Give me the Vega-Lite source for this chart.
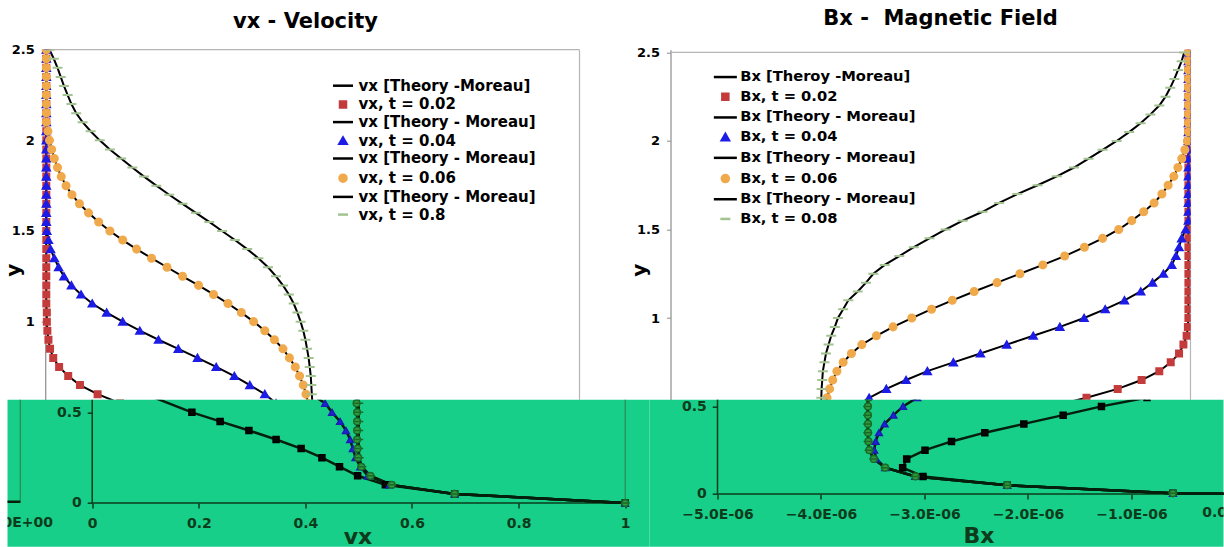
{
"$schema":"https://vega.github.io/schema/vega-lite/v6.json",
"padding":{"left":2.5,"top":7.7,"right":0,"bottom":0},
"autosize":{"type":"pad"},
"background":"#ffffff",
"columns":2,
"align":"none",
"bounds":"flush",
"spacing":0,
"resolve":{"scale":{"color":"independent","stroke":"independent","shape":"independent","size":"independent","x":"independent","y":"independent"},"legend":{"color":"independent","stroke":"independent","shape":"independent","size":"independent"}},
"config":{"view":{"stroke":null},"font":"DejaVu Sans","axis":{"grid":false}},
"datasets":{
"vtop":[
{"s":"vx, t = 0.02","y":2.5,"vx":0.002},{"s":"vx, t = 0.02","y":2.45,"vx":0.002},{"s":"vx, t = 0.02","y":2.4,"vx":0.002},{"s":"vx, t = 0.02","y":2.35,"vx":0.002},{"s":"vx, t = 0.02","y":2.3,"vx":0.002},{"s":"vx, t = 0.02","y":2.25,"vx":0.002},{"s":"vx, t = 0.02","y":2.2,"vx":0.002},{"s":"vx, t = 0.02","y":2.15,"vx":0.002},{"s":"vx, t = 0.02","y":2.1,"vx":0.002},{"s":"vx, t = 0.02","y":2.05,"vx":0.002},{"s":"vx, t = 0.02","y":2.0,"vx":0.002},{"s":"vx, t = 0.02","y":1.95,"vx":0.002},{"s":"vx, t = 0.02","y":1.9,"vx":0.002},{"s":"vx, t = 0.02","y":1.85,"vx":0.002},{"s":"vx, t = 0.02","y":1.8,"vx":0.002},{"s":"vx, t = 0.02","y":1.75,"vx":0.002},{"s":"vx, t = 0.02","y":1.7,"vx":0.002},{"s":"vx, t = 0.02","y":1.65,"vx":0.002},{"s":"vx, t = 0.02","y":1.6,"vx":0.002},{"s":"vx, t = 0.02","y":1.55,"vx":0.002},{"s":"vx, t = 0.02","y":1.5,"vx":0.002},{"s":"vx, t = 0.02","y":1.45,"vx":0.002},{"s":"vx, t = 0.02","y":1.4,"vx":0.002},{"s":"vx, t = 0.02","y":1.35,"vx":0.002},{"s":"vx, t = 0.02","y":1.3,"vx":0.002},{"s":"vx, t = 0.02","y":1.25,"vx":0.002},{"s":"vx, t = 0.02","y":1.2,"vx":0.002},{"s":"vx, t = 0.02","y":1.15,"vx":0.002},{"s":"vx, t = 0.02","y":1.1,"vx":0.002},{"s":"vx, t = 0.02","y":1.05,"vx":0.003},{"s":"vx, t = 0.02","y":1.0,"vx":0.003},{"s":"vx, t = 0.02","y":0.95,"vx":0.004},{"s":"vx, t = 0.02","y":0.9,"vx":0.006},{"s":"vx, t = 0.02","y":0.85,"vx":0.009},{"s":"vx, t = 0.02","y":0.8,"vx":0.015},{"s":"vx, t = 0.02","y":0.75,"vx":0.026},{"s":"vx, t = 0.02","y":0.7,"vx":0.043},{"s":"vx, t = 0.02","y":0.65,"vx":0.065},{"s":"vx, t = 0.02","y":0.6,"vx":0.098},{"s":"vx, t = 0.02","y":0.55,"vx":0.14},{"s":"vx, t = 0.02","y":0.5,"vx":0.185},
{"s":"vx, t = 0.04","y":2.5,"vx":0.002},{"s":"vx, t = 0.04","y":2.45,"vx":0.002},{"s":"vx, t = 0.04","y":2.4,"vx":0.002},{"s":"vx, t = 0.04","y":2.35,"vx":0.002},{"s":"vx, t = 0.04","y":2.3,"vx":0.002},{"s":"vx, t = 0.04","y":2.25,"vx":0.002},{"s":"vx, t = 0.04","y":2.2,"vx":0.002},{"s":"vx, t = 0.04","y":2.15,"vx":0.002},{"s":"vx, t = 0.04","y":2.1,"vx":0.002},{"s":"vx, t = 0.04","y":2.05,"vx":0.002},{"s":"vx, t = 0.04","y":2.0,"vx":0.002},{"s":"vx, t = 0.04","y":1.95,"vx":0.002},{"s":"vx, t = 0.04","y":1.9,"vx":0.002},{"s":"vx, t = 0.04","y":1.85,"vx":0.002},{"s":"vx, t = 0.04","y":1.8,"vx":0.002},{"s":"vx, t = 0.04","y":1.75,"vx":0.002},{"s":"vx, t = 0.04","y":1.7,"vx":0.002},{"s":"vx, t = 0.04","y":1.65,"vx":0.002},{"s":"vx, t = 0.04","y":1.6,"vx":0.002},{"s":"vx, t = 0.04","y":1.55,"vx":0.002},{"s":"vx, t = 0.04","y":1.5,"vx":0.003},{"s":"vx, t = 0.04","y":1.45,"vx":0.006},{"s":"vx, t = 0.04","y":1.4,"vx":0.01},{"s":"vx, t = 0.04","y":1.35,"vx":0.017},{"s":"vx, t = 0.04","y":1.3,"vx":0.025},{"s":"vx, t = 0.04","y":1.25,"vx":0.035},{"s":"vx, t = 0.04","y":1.2,"vx":0.049},{"s":"vx, t = 0.04","y":1.15,"vx":0.067},{"s":"vx, t = 0.04","y":1.1,"vx":0.088},{"s":"vx, t = 0.04","y":1.05,"vx":0.115},{"s":"vx, t = 0.04","y":1.0,"vx":0.145},{"s":"vx, t = 0.04","y":0.95,"vx":0.177},{"s":"vx, t = 0.04","y":0.9,"vx":0.212},{"s":"vx, t = 0.04","y":0.85,"vx":0.249},{"s":"vx, t = 0.04","y":0.8,"vx":0.285},{"s":"vx, t = 0.04","y":0.75,"vx":0.32},{"s":"vx, t = 0.04","y":0.7,"vx":0.354},{"s":"vx, t = 0.04","y":0.65,"vx":0.383},{"s":"vx, t = 0.04","y":0.6,"vx":0.411},{"s":"vx, t = 0.04","y":0.55,"vx":0.432},{"s":"vx, t = 0.04","y":0.5,"vx":0.45},
{"s":"vx, t = 0.06","y":2.5,"vx":0.002},{"s":"vx, t = 0.06","y":2.45,"vx":0.002},{"s":"vx, t = 0.06","y":2.4,"vx":0.002},{"s":"vx, t = 0.06","y":2.35,"vx":0.002},{"s":"vx, t = 0.06","y":2.3,"vx":0.002},{"s":"vx, t = 0.06","y":2.25,"vx":0.002},{"s":"vx, t = 0.06","y":2.2,"vx":0.002},{"s":"vx, t = 0.06","y":2.15,"vx":0.002},{"s":"vx, t = 0.06","y":2.1,"vx":0.002},{"s":"vx, t = 0.06","y":2.05,"vx":0.005},{"s":"vx, t = 0.06","y":2.0,"vx":0.008},{"s":"vx, t = 0.06","y":1.95,"vx":0.012},{"s":"vx, t = 0.06","y":1.9,"vx":0.017},{"s":"vx, t = 0.06","y":1.85,"vx":0.023},{"s":"vx, t = 0.06","y":1.8,"vx":0.03},{"s":"vx, t = 0.06","y":1.75,"vx":0.039},{"s":"vx, t = 0.06","y":1.7,"vx":0.05},{"s":"vx, t = 0.06","y":1.65,"vx":0.064},{"s":"vx, t = 0.06","y":1.6,"vx":0.081},{"s":"vx, t = 0.06","y":1.55,"vx":0.1},{"s":"vx, t = 0.06","y":1.5,"vx":0.121},{"s":"vx, t = 0.06","y":1.45,"vx":0.145},{"s":"vx, t = 0.06","y":1.4,"vx":0.171},{"s":"vx, t = 0.06","y":1.35,"vx":0.199},{"s":"vx, t = 0.06","y":1.3,"vx":0.228},{"s":"vx, t = 0.06","y":1.25,"vx":0.257},{"s":"vx, t = 0.06","y":1.2,"vx":0.287},{"s":"vx, t = 0.06","y":1.15,"vx":0.315},{"s":"vx, t = 0.06","y":1.1,"vx":0.342},{"s":"vx, t = 0.06","y":1.05,"vx":0.367},{"s":"vx, t = 0.06","y":1.0,"vx":0.39},{"s":"vx, t = 0.06","y":0.95,"vx":0.411},{"s":"vx, t = 0.06","y":0.9,"vx":0.429},{"s":"vx, t = 0.06","y":0.85,"vx":0.445},{"s":"vx, t = 0.06","y":0.8,"vx":0.457},{"s":"vx, t = 0.06","y":0.75,"vx":0.468},{"s":"vx, t = 0.06","y":0.7,"vx":0.476},{"s":"vx, t = 0.06","y":0.65,"vx":0.483},{"s":"vx, t = 0.06","y":0.6,"vx":0.488},{"s":"vx, t = 0.06","y":0.55,"vx":0.492},{"s":"vx, t = 0.06","y":0.5,"vx":0.495},
{"s":"vx, t = 0.8","y":2.5,"vx":0.008},{"s":"vx, t = 0.8","y":2.45,"vx":0.016},{"s":"vx, t = 0.8","y":2.4,"vx":0.023},{"s":"vx, t = 0.8","y":2.35,"vx":0.029},{"s":"vx, t = 0.8","y":2.3,"vx":0.035},{"s":"vx, t = 0.8","y":2.25,"vx":0.042},{"s":"vx, t = 0.8","y":2.2,"vx":0.049},{"s":"vx, t = 0.8","y":2.15,"vx":0.058},{"s":"vx, t = 0.8","y":2.1,"vx":0.07},{"s":"vx, t = 0.8","y":2.05,"vx":0.085},{"s":"vx, t = 0.8","y":2.0,"vx":0.102},{"s":"vx, t = 0.8","y":1.95,"vx":0.121},{"s":"vx, t = 0.8","y":1.9,"vx":0.142},{"s":"vx, t = 0.8","y":1.85,"vx":0.163},{"s":"vx, t = 0.8","y":1.8,"vx":0.185},{"s":"vx, t = 0.8","y":1.75,"vx":0.208},{"s":"vx, t = 0.8","y":1.7,"vx":0.232},{"s":"vx, t = 0.8","y":1.65,"vx":0.257},{"s":"vx, t = 0.8","y":1.6,"vx":0.282},{"s":"vx, t = 0.8","y":1.55,"vx":0.307},{"s":"vx, t = 0.8","y":1.5,"vx":0.331},{"s":"vx, t = 0.8","y":1.45,"vx":0.355},{"s":"vx, t = 0.8","y":1.4,"vx":0.378},{"s":"vx, t = 0.8","y":1.35,"vx":0.399},{"s":"vx, t = 0.8","y":1.3,"vx":0.417},{"s":"vx, t = 0.8","y":1.25,"vx":0.432},{"s":"vx, t = 0.8","y":1.2,"vx":0.445},{"s":"vx, t = 0.8","y":1.15,"vx":0.456},{"s":"vx, t = 0.8","y":1.1,"vx":0.465},{"s":"vx, t = 0.8","y":1.05,"vx":0.472},{"s":"vx, t = 0.8","y":1.0,"vx":0.478},{"s":"vx, t = 0.8","y":0.95,"vx":0.483},{"s":"vx, t = 0.8","y":0.9,"vx":0.487},{"s":"vx, t = 0.8","y":0.85,"vx":0.49},{"s":"vx, t = 0.8","y":0.8,"vx":0.493},{"s":"vx, t = 0.8","y":0.75,"vx":0.495},{"s":"vx, t = 0.8","y":0.7,"vx":0.497},{"s":"vx, t = 0.8","y":0.65,"vx":0.498},{"s":"vx, t = 0.8","y":0.6,"vx":0.499},{"s":"vx, t = 0.8","y":0.55,"vx":0.5},{"s":"vx, t = 0.8","y":0.5,"vx":0.5}
],
"btop":[
{"s":"Bx, t = 0.02","y":2.5,"Bx":-2e-8},{"s":"Bx, t = 0.02","y":2.45,"Bx":-2e-8},{"s":"Bx, t = 0.02","y":2.4,"Bx":-2e-8},{"s":"Bx, t = 0.02","y":2.35,"Bx":-2e-8},{"s":"Bx, t = 0.02","y":2.3,"Bx":-2e-8},{"s":"Bx, t = 0.02","y":2.25,"Bx":-2e-8},{"s":"Bx, t = 0.02","y":2.2,"Bx":-2e-8},{"s":"Bx, t = 0.02","y":2.15,"Bx":-2e-8},{"s":"Bx, t = 0.02","y":2.1,"Bx":-2e-8},{"s":"Bx, t = 0.02","y":2.05,"Bx":-2e-8},{"s":"Bx, t = 0.02","y":2.0,"Bx":-2e-8},{"s":"Bx, t = 0.02","y":1.95,"Bx":-2e-8},{"s":"Bx, t = 0.02","y":1.9,"Bx":-2e-8},{"s":"Bx, t = 0.02","y":1.85,"Bx":-2e-8},{"s":"Bx, t = 0.02","y":1.8,"Bx":-2e-8},{"s":"Bx, t = 0.02","y":1.75,"Bx":-2e-8},{"s":"Bx, t = 0.02","y":1.7,"Bx":-2e-8},{"s":"Bx, t = 0.02","y":1.65,"Bx":-2e-8},{"s":"Bx, t = 0.02","y":1.6,"Bx":-2e-8},{"s":"Bx, t = 0.02","y":1.55,"Bx":-2e-8},{"s":"Bx, t = 0.02","y":1.5,"Bx":-2e-8},{"s":"Bx, t = 0.02","y":1.45,"Bx":-2e-8},{"s":"Bx, t = 0.02","y":1.4,"Bx":-2e-8},{"s":"Bx, t = 0.02","y":1.35,"Bx":-2e-8},{"s":"Bx, t = 0.02","y":1.3,"Bx":-2e-8},{"s":"Bx, t = 0.02","y":1.25,"Bx":-2e-8},{"s":"Bx, t = 0.02","y":1.2,"Bx":-2e-8},{"s":"Bx, t = 0.02","y":1.15,"Bx":-2e-8},{"s":"Bx, t = 0.02","y":1.1,"Bx":-2e-8},{"s":"Bx, t = 0.02","y":1.05,"Bx":-2e-8},{"s":"Bx, t = 0.02","y":1.0,"Bx":-2e-8},{"s":"Bx, t = 0.02","y":0.95,"Bx":-2.5e-8},{"s":"Bx, t = 0.02","y":0.9,"Bx":-3.7e-8},{"s":"Bx, t = 0.02","y":0.85,"Bx":-6.8e-8},{"s":"Bx, t = 0.02","y":0.8,"Bx":-1.1e-7},{"s":"Bx, t = 0.02","y":0.75,"Bx":-1.9e-7},{"s":"Bx, t = 0.02","y":0.7,"Bx":-3.0e-7},{"s":"Bx, t = 0.02","y":0.65,"Bx":-4.7e-7},{"s":"Bx, t = 0.02","y":0.6,"Bx":-7.0e-7},{"s":"Bx, t = 0.02","y":0.55,"Bx":-1.0e-6},{"s":"Bx, t = 0.02","y":0.5,"Bx":-1.35e-6},
{"s":"Bx, t = 0.04","y":2.5,"Bx":-2e-8},{"s":"Bx, t = 0.04","y":2.45,"Bx":-2e-8},{"s":"Bx, t = 0.04","y":2.4,"Bx":-2e-8},{"s":"Bx, t = 0.04","y":2.35,"Bx":-2e-8},{"s":"Bx, t = 0.04","y":2.3,"Bx":-2e-8},{"s":"Bx, t = 0.04","y":2.25,"Bx":-2e-8},{"s":"Bx, t = 0.04","y":2.2,"Bx":-2e-8},{"s":"Bx, t = 0.04","y":2.15,"Bx":-2e-8},{"s":"Bx, t = 0.04","y":2.1,"Bx":-2e-8},{"s":"Bx, t = 0.04","y":2.05,"Bx":-2e-8},{"s":"Bx, t = 0.04","y":2.0,"Bx":-2e-8},{"s":"Bx, t = 0.04","y":1.95,"Bx":-2e-8},{"s":"Bx, t = 0.04","y":1.9,"Bx":-2e-8},{"s":"Bx, t = 0.04","y":1.85,"Bx":-2e-8},{"s":"Bx, t = 0.04","y":1.8,"Bx":-2e-8},{"s":"Bx, t = 0.04","y":1.75,"Bx":-2e-8},{"s":"Bx, t = 0.04","y":1.7,"Bx":-2e-8},{"s":"Bx, t = 0.04","y":1.65,"Bx":-2e-8},{"s":"Bx, t = 0.04","y":1.6,"Bx":-2e-8},{"s":"Bx, t = 0.04","y":1.55,"Bx":-2e-8},{"s":"Bx, t = 0.04","y":1.5,"Bx":-4.6e-8},{"s":"Bx, t = 0.04","y":1.45,"Bx":-8.5e-8},{"s":"Bx, t = 0.04","y":1.4,"Bx":-1.1e-7},{"s":"Bx, t = 0.04","y":1.35,"Bx":-1.4e-7},{"s":"Bx, t = 0.04","y":1.3,"Bx":-1.8e-7},{"s":"Bx, t = 0.04","y":1.25,"Bx":-2.6e-7},{"s":"Bx, t = 0.04","y":1.2,"Bx":-3.65e-7},{"s":"Bx, t = 0.04","y":1.15,"Bx":-4.78e-7},{"s":"Bx, t = 0.04","y":1.1,"Bx":-6.35e-7},{"s":"Bx, t = 0.04","y":1.05,"Bx":-8.2e-7},{"s":"Bx, t = 0.04","y":1.0,"Bx":-1.023e-6},{"s":"Bx, t = 0.04","y":0.95,"Bx":-1.256e-6},{"s":"Bx, t = 0.04","y":0.9,"Bx":-1.512e-6},{"s":"Bx, t = 0.04","y":0.85,"Bx":-1.767e-6},{"s":"Bx, t = 0.04","y":0.8,"Bx":-2.02e-6},{"s":"Bx, t = 0.04","y":0.75,"Bx":-2.28e-6},{"s":"Bx, t = 0.04","y":0.7,"Bx":-2.53e-6},{"s":"Bx, t = 0.04","y":0.65,"Bx":-2.735e-6},{"s":"Bx, t = 0.04","y":0.6,"Bx":-2.925e-6},{"s":"Bx, t = 0.04","y":0.55,"Bx":-3.09e-6},{"s":"Bx, t = 0.04","y":0.5,"Bx":-3.22e-6},
{"s":"Bx, t = 0.06","y":2.5,"Bx":-2e-8},{"s":"Bx, t = 0.06","y":2.45,"Bx":-2e-8},{"s":"Bx, t = 0.06","y":2.4,"Bx":-2e-8},{"s":"Bx, t = 0.06","y":2.35,"Bx":-2e-8},{"s":"Bx, t = 0.06","y":2.3,"Bx":-2e-8},{"s":"Bx, t = 0.06","y":2.25,"Bx":-2e-8},{"s":"Bx, t = 0.06","y":2.2,"Bx":-2e-8},{"s":"Bx, t = 0.06","y":2.15,"Bx":-2e-8},{"s":"Bx, t = 0.06","y":2.1,"Bx":-2e-8},{"s":"Bx, t = 0.06","y":2.05,"Bx":-2e-8},{"s":"Bx, t = 0.06","y":2.0,"Bx":-3e-8},{"s":"Bx, t = 0.06","y":1.95,"Bx":-5.4e-8},{"s":"Bx, t = 0.06","y":1.9,"Bx":-8.4e-8},{"s":"Bx, t = 0.06","y":1.85,"Bx":-1.21e-7},{"s":"Bx, t = 0.06","y":1.8,"Bx":-1.6e-7},{"s":"Bx, t = 0.06","y":1.75,"Bx":-2.15e-7},{"s":"Bx, t = 0.06","y":1.7,"Bx":-2.75e-7},{"s":"Bx, t = 0.06","y":1.65,"Bx":-3.5e-7},{"s":"Bx, t = 0.06","y":1.6,"Bx":-4.5e-7},{"s":"Bx, t = 0.06","y":1.55,"Bx":-5.65e-7},{"s":"Bx, t = 0.06","y":1.5,"Bx":-6.9e-7},{"s":"Bx, t = 0.06","y":1.45,"Bx":-8.45e-7},{"s":"Bx, t = 0.06","y":1.4,"Bx":-1.02e-6},{"s":"Bx, t = 0.06","y":1.35,"Bx":-1.21e-6},{"s":"Bx, t = 0.06","y":1.3,"Bx":-1.42e-6},{"s":"Bx, t = 0.06","y":1.25,"Bx":-1.64e-6},{"s":"Bx, t = 0.06","y":1.2,"Bx":-1.86e-6},{"s":"Bx, t = 0.06","y":1.15,"Bx":-2.08e-6},{"s":"Bx, t = 0.06","y":1.1,"Bx":-2.29e-6},{"s":"Bx, t = 0.06","y":1.05,"Bx":-2.49e-6},{"s":"Bx, t = 0.06","y":1.0,"Bx":-2.68e-6},{"s":"Bx, t = 0.06","y":0.95,"Bx":-2.86e-6},{"s":"Bx, t = 0.06","y":0.9,"Bx":-3.02e-6},{"s":"Bx, t = 0.06","y":0.85,"Bx":-3.16e-6},{"s":"Bx, t = 0.06","y":0.8,"Bx":-3.26e-6},{"s":"Bx, t = 0.06","y":0.75,"Bx":-3.34e-6},{"s":"Bx, t = 0.06","y":0.7,"Bx":-3.4e-6},{"s":"Bx, t = 0.06","y":0.65,"Bx":-3.44e-6},{"s":"Bx, t = 0.06","y":0.6,"Bx":-3.47e-6},{"s":"Bx, t = 0.06","y":0.55,"Bx":-3.495e-6},{"s":"Bx, t = 0.06","y":0.5,"Bx":-3.51e-6},
{"s":"Bx, t = 0.08","y":2.5,"Bx":-6e-8},{"s":"Bx, t = 0.08","y":2.45,"Bx":-8.5e-8},{"s":"Bx, t = 0.08","y":2.4,"Bx":-1.2e-7},{"s":"Bx, t = 0.08","y":2.35,"Bx":-1.55e-7},{"s":"Bx, t = 0.08","y":2.3,"Bx":-1.95e-7},{"s":"Bx, t = 0.08","y":2.25,"Bx":-2.4e-7},{"s":"Bx, t = 0.08","y":2.2,"Bx":-3.0e-7},{"s":"Bx, t = 0.08","y":2.15,"Bx":-3.85e-7},{"s":"Bx, t = 0.08","y":2.1,"Bx":-4.8e-7},{"s":"Bx, t = 0.08","y":2.05,"Bx":-5.9e-7},{"s":"Bx, t = 0.08","y":2.0,"Bx":-7.1e-7},{"s":"Bx, t = 0.08","y":1.95,"Bx":-8.45e-7},{"s":"Bx, t = 0.08","y":1.9,"Bx":-9.8e-7},{"s":"Bx, t = 0.08","y":1.85,"Bx":-1.12e-6},{"s":"Bx, t = 0.08","y":1.8,"Bx":-1.285e-6},{"s":"Bx, t = 0.08","y":1.75,"Bx":-1.47e-6},{"s":"Bx, t = 0.08","y":1.7,"Bx":-1.665e-6},{"s":"Bx, t = 0.08","y":1.65,"Bx":-1.84e-6},{"s":"Bx, t = 0.08","y":1.6,"Bx":-2.0e-6},{"s":"Bx, t = 0.08","y":1.55,"Bx":-2.19e-6},{"s":"Bx, t = 0.08","y":1.5,"Bx":-2.355e-6},{"s":"Bx, t = 0.08","y":1.45,"Bx":-2.51e-6},{"s":"Bx, t = 0.08","y":1.4,"Bx":-2.66e-6},{"s":"Bx, t = 0.08","y":1.35,"Bx":-2.8e-6},{"s":"Bx, t = 0.08","y":1.3,"Bx":-2.94e-6},{"s":"Bx, t = 0.08","y":1.25,"Bx":-3.05e-6},{"s":"Bx, t = 0.08","y":1.2,"Bx":-3.12e-6},{"s":"Bx, t = 0.08","y":1.15,"Bx":-3.2e-6},{"s":"Bx, t = 0.08","y":1.1,"Bx":-3.29e-6},{"s":"Bx, t = 0.08","y":1.05,"Bx":-3.34e-6},{"s":"Bx, t = 0.08","y":1.0,"Bx":-3.39e-6},{"s":"Bx, t = 0.08","y":0.95,"Bx":-3.42e-6},{"s":"Bx, t = 0.08","y":0.9,"Bx":-3.455e-6},{"s":"Bx, t = 0.08","y":0.85,"Bx":-3.48e-6},{"s":"Bx, t = 0.08","y":0.8,"Bx":-3.505e-6},{"s":"Bx, t = 0.08","y":0.75,"Bx":-3.52e-6},{"s":"Bx, t = 0.08","y":0.7,"Bx":-3.535e-6},{"s":"Bx, t = 0.08","y":0.65,"Bx":-3.541e-6},{"s":"Bx, t = 0.08","y":0.6,"Bx":-3.547e-6},{"s":"Bx, t = 0.08","y":0.55,"Bx":-3.55e-6},{"s":"Bx, t = 0.08","y":0.5,"Bx":-3.55e-6}
],
"vband":[
{"s":"t = 0.02","y":0.6,"vx":0.1},{"s":"t = 0.02","y":0.5,"vx":0.187},{"s":"t = 0.02","y":0.45,"vx":0.24},{"s":"t = 0.02","y":0.4,"vx":0.294},{"s":"t = 0.02","y":0.35,"vx":0.345},{"s":"t = 0.02","y":0.3,"vx":0.392},{"s":"t = 0.02","y":0.25,"vx":0.431},{"s":"t = 0.02","y":0.2,"vx":0.464},{"s":"t = 0.02","y":0.15,"vx":0.498},{"s":"t = 0.02","y":0.1,"vx":0.55},{"s":"t = 0.02","y":0.05,"vx":0.68},{"s":"t = 0.02","y":0.0,"vx":1.0},
{"s":"t = 0.04","y":0.6,"vx":0.411},{"s":"t = 0.04","y":0.55,"vx":0.437},{"s":"t = 0.04","y":0.5,"vx":0.45},{"s":"t = 0.04","y":0.45,"vx":0.465},{"s":"t = 0.04","y":0.4,"vx":0.476},{"s":"t = 0.04","y":0.35,"vx":0.484},{"s":"t = 0.04","y":0.3,"vx":0.489},{"s":"t = 0.04","y":0.25,"vx":0.494},{"s":"t = 0.04","y":0.2,"vx":0.503},{"s":"t = 0.04","y":0.15,"vx":0.517},{"s":"t = 0.04","y":0.1,"vx":0.558},{"s":"t = 0.04","y":0.05,"vx":0.68},{"s":"t = 0.04","y":0.0,"vx":1.0},
{"s":"t = 0.06","y":0.6,"vx":0.494},{"s":"t = 0.06","y":0.55,"vx":0.496},{"s":"t = 0.06","y":0.5,"vx":0.497},{"s":"t = 0.06","y":0.45,"vx":0.497},{"s":"t = 0.06","y":0.4,"vx":0.497},{"s":"t = 0.06","y":0.35,"vx":0.497},{"s":"t = 0.06","y":0.3,"vx":0.498},{"s":"t = 0.06","y":0.25,"vx":0.499},{"s":"t = 0.06","y":0.2,"vx":0.505},{"s":"t = 0.06","y":0.15,"vx":0.522},{"s":"t = 0.06","y":0.1,"vx":0.562},{"s":"t = 0.06","y":0.05,"vx":0.68},{"s":"t = 0.06","y":0.0,"vx":1.0},
{"s":"t = 0.8","y":0.6,"vx":0.499},{"s":"t = 0.8","y":0.55,"vx":0.5},{"s":"t = 0.8","y":0.5,"vx":0.5},{"s":"t = 0.8","y":0.45,"vx":0.5},{"s":"t = 0.8","y":0.4,"vx":0.5},{"s":"t = 0.8","y":0.35,"vx":0.5},{"s":"t = 0.8","y":0.3,"vx":0.5},{"s":"t = 0.8","y":0.25,"vx":0.501},{"s":"t = 0.8","y":0.2,"vx":0.506},{"s":"t = 0.8","y":0.15,"vx":0.522},{"s":"t = 0.8","y":0.1,"vx":0.562},{"s":"t = 0.8","y":0.05,"vx":0.68},{"s":"t = 0.8","y":0.0,"vx":1.0}
],
"bband":[
{"s":"t = 0.02","y":0.6,"Bx":-5.5e-7},{"s":"t = 0.02","y":0.55,"Bx":-8.5e-7},{"s":"t = 0.02","y":0.5,"Bx":-1.29e-6},{"s":"t = 0.02","y":0.45,"Bx":-1.66e-6},{"s":"t = 0.02","y":0.4,"Bx":-2.04e-6},{"s":"t = 0.02","y":0.35,"Bx":-2.417e-6},{"s":"t = 0.02","y":0.3,"Bx":-2.739e-6},{"s":"t = 0.02","y":0.25,"Bx":-2.995e-6},{"s":"t = 0.02","y":0.2,"Bx":-3.172e-6},{"s":"t = 0.02","y":0.15,"Bx":-3.211e-6},{"s":"t = 0.02","y":0.1,"Bx":-3.014e-6},{"s":"t = 0.02","y":0.05,"Bx":-2.2e-6},{"s":"t = 0.02","y":0.004,"Bx":-6e-7},{"s":"t = 0.02","y":0.0,"Bx":0},
{"s":"t = 0.04","y":0.6,"Bx":-2.86e-6},{"s":"t = 0.04","y":0.55,"Bx":-3.07e-6},{"s":"t = 0.04","y":0.5,"Bx":-3.207e-6},{"s":"t = 0.04","y":0.45,"Bx":-3.3e-6},{"s":"t = 0.04","y":0.4,"Bx":-3.385e-6},{"s":"t = 0.04","y":0.35,"Bx":-3.44e-6},{"s":"t = 0.04","y":0.3,"Bx":-3.472e-6},{"s":"t = 0.04","y":0.25,"Bx":-3.486e-6},{"s":"t = 0.04","y":0.2,"Bx":-3.466e-6},{"s":"t = 0.04","y":0.15,"Bx":-3.38e-6},{"s":"t = 0.04","y":0.1,"Bx":-3.09e-6},{"s":"t = 0.04","y":0.05,"Bx":-2.2e-6},{"s":"t = 0.04","y":0.004,"Bx":-6e-7},{"s":"t = 0.04","y":0.0,"Bx":0},
{"s":"t = 0.06","y":0.6,"Bx":-3.53e-6},{"s":"t = 0.06","y":0.55,"Bx":-3.54e-6},{"s":"t = 0.06","y":0.5,"Bx":-3.546e-6},{"s":"t = 0.06","y":0.45,"Bx":-3.546e-6},{"s":"t = 0.06","y":0.4,"Bx":-3.546e-6},{"s":"t = 0.06","y":0.35,"Bx":-3.545e-6},{"s":"t = 0.06","y":0.3,"Bx":-3.542e-6},{"s":"t = 0.06","y":0.25,"Bx":-3.533e-6},{"s":"t = 0.06","y":0.2,"Bx":-3.49e-6},{"s":"t = 0.06","y":0.15,"Bx":-3.38e-6},{"s":"t = 0.06","y":0.1,"Bx":-3.087e-6},{"s":"t = 0.06","y":0.05,"Bx":-2.2e-6},{"s":"t = 0.06","y":0.004,"Bx":-6e-7},{"s":"t = 0.06","y":0.0,"Bx":0},
{"s":"t = 0.08","y":0.6,"Bx":-3.54e-6},{"s":"t = 0.08","y":0.55,"Bx":-3.55e-6},{"s":"t = 0.08","y":0.5,"Bx":-3.55e-6},{"s":"t = 0.08","y":0.45,"Bx":-3.55e-6},{"s":"t = 0.08","y":0.4,"Bx":-3.55e-6},{"s":"t = 0.08","y":0.35,"Bx":-3.548e-6},{"s":"t = 0.08","y":0.3,"Bx":-3.545e-6},{"s":"t = 0.08","y":0.25,"Bx":-3.535e-6},{"s":"t = 0.08","y":0.2,"Bx":-3.49e-6},{"s":"t = 0.08","y":0.15,"Bx":-3.38e-6},{"s":"t = 0.08","y":0.1,"Bx":-3.087e-6},{"s":"t = 0.08","y":0.05,"Bx":-2.2e-6},{"s":"t = 0.08","y":0.004,"Bx":-6e-7},{"s":"t = 0.08","y":0.0,"Bx":0}
]
},
"concat":[
{
"width":642,"height":350,
"title":{"text":"vx - Velocity","font":"DejaVu Sans","fontSize":21,"fontWeight":"bold","color":"#000000","frame":"group","anchor":"middle","dx":-23,"baseline":"alphabetic","offset":-5},
"layer":[
{"data":{"values":[{}]},"mark":{"type":"rule","color":"#b5b5b5","strokeWidth":1.2},
"encoding":{"x":{"datum":0,"type":"quantitative","scale":{"domain":[-0.0706,1.131],"nice":false,"zero":false},"axis":null},"x2":{"datum":1},
"y":{"datum":2.5,"type":"quantitative","scale":{"domain":[0.5695,2.5],"nice":false,"zero":false},"axis":{"orient":"left","offset":-37.7,"values":[1,1.5,2,2.5],"format":"~g","grid":false,"domainColor":"#8c8c8c","domainWidth":1.2,"tickColor":"#8c8c8c","tickSize":4,"labelFont":"DejaVu Sans","labelFontWeight":"bold","labelFontSize":13,"labelColor":"#000000","labelPadding":7,"title":"y","titleFont":"DejaVu Sans","titleFontWeight":"bold","titleFontSize":20,"titleColor":"#000000","titleX":-32,"titleY":220,"titleAngle":270,"titleAlign":"center","titleBaseline":"middle"}}}},
{"data":{"values":[{}]},"mark":{"type":"rule","color":"#b5b5b5","strokeWidth":1.2},
"encoding":{"x":{"datum":1,"type":"quantitative","scale":{"domain":[-0.0706,1.131],"nice":false,"zero":false},"axis":null}}},
{"data":{"name":"vtop"},"mark":{"type":"line","color":"#000000","strokeWidth":2,"clip":true},
"encoding":{"x":{"field":"vx","type":"quantitative","scale":{"domain":[-0.0706,1.131],"nice":false,"zero":false},"axis":null},
"y":{"field":"y","type":"quantitative","scale":{"domain":[0.5695,2.5],"nice":false,"zero":false},"axis":{"orient":"left","offset":-37.7,"values":[1,1.5,2,2.5],"format":"~g","grid":false,"domainColor":"#8c8c8c","domainWidth":1.2,"tickColor":"#8c8c8c","tickSize":4,"labelFont":"DejaVu Sans","labelFontWeight":"bold","labelFontSize":13,"labelColor":"#000000","labelPadding":7,"title":"y","titleFont":"DejaVu Sans","titleFontWeight":"bold","titleFontSize":20,"titleColor":"#000000","titleX":-32,"titleY":220,"titleAngle":270,"titleAlign":"center","titleBaseline":"middle"}},
"detail":{"field":"s","type":"nominal"},"order":{"field":"y","type":"quantitative"}}},
{"data":{"name":"vtop"},"mark":{"type":"point","filled":true,"opacity":1,"strokeWidth":2,"clip":true},
"encoding":{"x":{"field":"vx","type":"quantitative","scale":{"domain":[-0.0706,1.131],"nice":false,"zero":false},"axis":null},
"y":{"field":"y","type":"quantitative"},
"color":{"field":"s","type":"nominal","scale":{"domain":["vx [Theory -Moreau]","vx, t = 0.02","vx [Theory - Moreau]","vx, t = 0.04","vx [Theory - Moreau] ","vx, t = 0.06","vx [Theory - Moreau]  ","vx, t = 0.8"],"range":["#000000","#c43b3b","#000000","#1c1ce6","#000000","#f0a94b","#000000","#a3c392"]},
"legend":{"title":null,"orient":"none","legendX":328,"legendY":28.5,"labelFont":"DejaVu Sans","labelFontSize":15,"labelFontWeight":"bold","labelColor":"#000000","labelOffset":8,"rowPadding":1.7,"symbolStrokeWidth":2.5,"padding":0,"labelLimit":400}},
"stroke":{"field":"s","type":"nominal","scale":{"domain":["vx [Theory -Moreau]","vx, t = 0.02","vx [Theory - Moreau]","vx, t = 0.04","vx [Theory - Moreau] ","vx, t = 0.06","vx [Theory - Moreau]  ","vx, t = 0.8"],"range":["#000000","#c43b3b","#000000","#1c1ce6","#000000","#f0a94b","#000000","#a3c392"]},
"legend":{"title":null,"orient":"none","legendX":328,"legendY":28.5,"labelFont":"DejaVu Sans","labelFontSize":15,"labelFontWeight":"bold","labelColor":"#000000","labelOffset":8,"rowPadding":1.7,"symbolStrokeWidth":2.5,"padding":0,"labelLimit":400}},
"shape":{"field":"s","type":"nominal","scale":{"domain":["vx [Theory -Moreau]","vx, t = 0.02","vx [Theory - Moreau]","vx, t = 0.04","vx [Theory - Moreau] ","vx, t = 0.06","vx [Theory - Moreau]  ","vx, t = 0.8"],"range":["M-2,0L2,0","square","M-2,0L2,0","triangle-up","M-2,0L2,0","circle","M-2,0L2,0","stroke"]},
"legend":{"title":null,"orient":"none","legendX":328,"legendY":28.5,"labelFont":"DejaVu Sans","labelFontSize":15,"labelFontWeight":"bold","labelColor":"#000000","labelOffset":8,"rowPadding":1.7,"symbolStrokeWidth":2.5,"padding":0,"labelLimit":400}},
"size":{"field":"s","type":"nominal","scale":{"type":"ordinal","domain":["vx [Theory -Moreau]","vx, t = 0.02","vx [Theory - Moreau]","vx, t = 0.04","vx [Theory - Moreau] ","vx, t = 0.06","vx [Theory - Moreau]  ","vx, t = 0.8"],"range":[100,36,100,50,100,50,100,100]},
"legend":{"title":null,"orient":"none","legendX":328,"legendY":28.5,"labelFont":"DejaVu Sans","labelFontSize":15,"labelFontWeight":"bold","labelColor":"#000000","labelOffset":8,"rowPadding":1.7,"symbolStrokeWidth":2.5,"padding":0,"labelLimit":400}}
}}
]
},
{
"width":541,"height":350,
"title":{"text":"Bx - \u00a0Magnetic Field","font":"DejaVu Sans","fontSize":21,"fontWeight":"bold","color":"#000000","frame":"group","anchor":"middle","dx":20.5,"baseline":"alphabetic","offset":0},
"layer":[
{"data":{"values":[{}]},"mark":{"type":"rule","color":"#b5b5b5","strokeWidth":1.2},
"encoding":{"x":{"datum":-5e-6,"type":"quantitative","scale":{"domain":[-5.202e-6,0],"nice":false,"zero":false},"axis":null},"x2":{"datum":0},
"y":{"datum":2.5,"type":"quantitative","scale":{"domain":[0.539,2.5152],"nice":false,"zero":false},"axis":{"orient":"left","offset":-21,"values":[1,1.5,2,2.5],"format":"~g","grid":false,"domainColor":"#8c8c8c","domainWidth":1.2,"tickColor":"#8c8c8c","tickSize":4,"labelFont":"DejaVu Sans","labelFontWeight":"bold","labelFontSize":13,"labelColor":"#000000","labelPadding":7,"title":"y","titleFont":"DejaVu Sans","titleFontWeight":"bold","titleFontSize":20,"titleColor":"#000000","titleX":-31,"titleY":220,"titleAngle":270,"titleAlign":"center","titleBaseline":"middle"}}}},
{"data":{"values":[{}]},"mark":{"type":"rule","color":"#b5b5b5","strokeWidth":1.2},
"encoding":{"x":{"datum":0,"type":"quantitative","scale":{"domain":[-5.202e-6,0],"nice":false,"zero":false},"axis":null}}},
{"data":{"name":"btop"},"mark":{"type":"line","color":"#000000","strokeWidth":2,"clip":true},
"encoding":{"x":{"field":"Bx","type":"quantitative","scale":{"domain":[-5.202e-6,0],"nice":false,"zero":false},"axis":null},
"y":{"field":"y","type":"quantitative","scale":{"domain":[0.539,2.5152],"nice":false,"zero":false},"axis":{"orient":"left","offset":-21,"values":[1,1.5,2,2.5],"format":"~g","grid":false,"domainColor":"#8c8c8c","domainWidth":1.2,"tickColor":"#8c8c8c","tickSize":4,"labelFont":"DejaVu Sans","labelFontWeight":"bold","labelFontSize":13,"labelColor":"#000000","labelPadding":7,"title":"y","titleFont":"DejaVu Sans","titleFontWeight":"bold","titleFontSize":20,"titleColor":"#000000","titleX":-31,"titleY":220,"titleAngle":270,"titleAlign":"center","titleBaseline":"middle"}},
"detail":{"field":"s","type":"nominal"},"order":{"field":"y","type":"quantitative"}}},
{"data":{"name":"btop"},"mark":{"type":"point","filled":true,"opacity":1,"strokeWidth":2,"clip":true},
"encoding":{"x":{"field":"Bx","type":"quantitative","scale":{"domain":[-5.202e-6,0],"nice":false,"zero":false},"axis":null},
"y":{"field":"y","type":"quantitative"},
"color":{"field":"s","type":"nominal","scale":{"domain":["Bx [Theroy -Moreau]","Bx, t = 0.02","Bx [Theory - Moreau]","Bx, t = 0.04","Bx [Theory - Moreau] ","Bx, t = 0.06","Bx [Theory - Moreau]  ","Bx, t = 0.08"],"range":["#000000","#c43b3b","#000000","#1c1ce6","#000000","#f0a94b","#000000","#a3c392"]},
"legend":{"title":null,"orient":"none","legendX":68.5,"legendY":20,"labelFont":"DejaVu Sans","labelFontSize":14.7,"labelFontWeight":"bold","labelColor":"#000000","labelOffset":7.5,"rowPadding":3.7,"symbolStrokeWidth":2.5,"padding":0,"labelLimit":400}},
"stroke":{"field":"s","type":"nominal","scale":{"domain":["Bx [Theroy -Moreau]","Bx, t = 0.02","Bx [Theory - Moreau]","Bx, t = 0.04","Bx [Theory - Moreau] ","Bx, t = 0.06","Bx [Theory - Moreau]  ","Bx, t = 0.08"],"range":["#000000","#c43b3b","#000000","#1c1ce6","#000000","#f0a94b","#000000","#a3c392"]},
"legend":{"title":null,"orient":"none","legendX":68.5,"legendY":20,"labelFont":"DejaVu Sans","labelFontSize":14.7,"labelFontWeight":"bold","labelColor":"#000000","labelOffset":7.5,"rowPadding":3.7,"symbolStrokeWidth":2.5,"padding":0,"labelLimit":400}},
"shape":{"field":"s","type":"nominal","scale":{"domain":["Bx [Theroy -Moreau]","Bx, t = 0.02","Bx [Theory - Moreau]","Bx, t = 0.04","Bx [Theory - Moreau] ","Bx, t = 0.06","Bx [Theory - Moreau]  ","Bx, t = 0.08"],"range":["M-2.3,0L2.3,0","square","M-2.3,0L2.3,0","triangle-up","M-2.3,0L2.3,0","circle","M-2.3,0L2.3,0","stroke"]},
"legend":{"title":null,"orient":"none","legendX":68.5,"legendY":20,"labelFont":"DejaVu Sans","labelFontSize":14.7,"labelFontWeight":"bold","labelColor":"#000000","labelOffset":7.5,"rowPadding":3.7,"symbolStrokeWidth":2.5,"padding":0,"labelLimit":400}},
"size":{"field":"s","type":"nominal","scale":{"type":"ordinal","domain":["Bx [Theroy -Moreau]","Bx, t = 0.02","Bx [Theory - Moreau]","Bx, t = 0.04","Bx [Theory - Moreau] ","Bx, t = 0.06","Bx [Theory - Moreau]  ","Bx, t = 0.08"],"range":[100,36,100,50,100,50,100,100]},
"legend":{"title":null,"orient":"none","legendX":68.5,"legendY":20,"labelFont":"DejaVu Sans","labelFontSize":14.7,"labelFontWeight":"bold","labelColor":"#000000","labelOffset":7.5,"rowPadding":3.7,"symbolStrokeWidth":2.5,"padding":0,"labelLimit":400}}
}}
]
},
{
"width":642,"height":147,
"view":{"fill":"#17cf89","stroke":null},
"layer":[
{"data":{"values":[{}]},"mark":{"type":"rule","color":"#0d3b1c","strokeWidth":1.5},
"encoding":{"x":{"datum":0,"type":"quantitative","scale":{"domain":[-0.1589,1.0456],"nice":false,"zero":false},"axis":{"orient":"bottom","offset":-43.7,"values":[0,0.2,0.4,0.6,0.8,1],"format":"~g","grid":false,"domain":false,"tickColor":"#0d3b1c","tickSize":5,"tickWidth":1.5,"labelFont":"DejaVu Sans","labelFontWeight":"bold","labelFontSize":14,"labelColor":"#0d3b1c","labelPadding":9,"labelOverlap":false,"title":"vx","titleFont":"DejaVu Sans","titleFontWeight":"bold","titleFontSize":22,"titleColor":"#0d3b1c","titleX":350,"titleY":34,"titleAlign":"center","titleBaseline":"middle"}},
"y":{"datum":0,"type":"quantitative","scale":{"domain":[-0.241,0.5698],"nice":false,"zero":false},"axis":{"orient":"left","offset":-84.7,"values":[0,0.5],"format":"~g","grid":false,"domain":false,"tickColor":"#0d3b1c","tickSize":5,"tickWidth":1.5,"labelFont":"DejaVu Sans","labelFontWeight":"bold","labelFontSize":14,"labelColor":"#0d3b1c","labelPadding":6,"title":null}},
"y2":{"datum":0.5698}}},
{"data":{"values":[{}]},"mark":{"type":"rule","color":"#0d3b1c","strokeWidth":1.5},
"encoding":{"x":{"datum":0,"type":"quantitative"},"x2":{"datum":1},"y":{"datum":0,"type":"quantitative"}}},
{"data":{"values":[{}]},"mark":{"type":"rule","color":"#2f7a48","strokeWidth":1},
"encoding":{"x":{"datum":1,"type":"quantitative"},"y":{"datum":0,"type":"quantitative"},"y2":{"datum":0.5698}}},
{"data":{"values":[{}]},"mark":{"type":"rule","color":"#2f7a48","strokeWidth":1},
"encoding":{"x":{"datum":-0.135,"type":"quantitative"},"y":{"datum":0,"type":"quantitative"},"y2":{"datum":0.5698}}},
{"data":{"values":[{}]},"mark":{"type":"rule","color":"#061f0c","strokeWidth":2.5,"clip":true},
"encoding":{"x":{"datum":-0.17,"type":"quantitative"},"x2":{"datum":-0.135},"y":{"datum":0.007,"type":"quantitative"}}},
{"data":{"values":[{"label":"0.0E+00","vx":-0.135,"y":-0.109}]},"mark":{"type":"text","font":"DejaVu Sans","fontWeight":"bold","fontSize":14,"color":"#0d3b1c","align":"center","baseline":"middle","clip":true},
"encoding":{"x":{"field":"vx","type":"quantitative"},"y":{"field":"y","type":"quantitative"},"text":{"field":"label"}}},
{"data":{"name":"vband"},"mark":{"type":"line","color":"#061f0c","strokeWidth":2.5,"clip":true},
"encoding":{"x":{"field":"vx","type":"quantitative"},"y":{"field":"y","type":"quantitative"},"detail":{"field":"s","type":"nominal"},"order":{"field":"y","type":"quantitative"}}},
{"data":{"name":"vband"},"mark":{"type":"point","filled":true,"opacity":1,"strokeWidth":1.5,"clip":true},
"encoding":{"x":{"field":"vx","type":"quantitative"},"y":{"field":"y","type":"quantitative"},
"color":{"field":"s","type":"nominal","scale":{"domain":["t = 0.02","t = 0.04","t = 0.06","t = 0.8"],"range":["#050505","#2323d6","#2f9d3f","#5fae4a"]},"legend":null},
"stroke":{"field":"s","type":"nominal","scale":{"domain":["t = 0.02","t = 0.04","t = 0.06","t = 0.8"],"range":["#000000","#1a1ab4","#1b6b28","#1b6b28"]},"legend":null},
"shape":{"field":"s","type":"nominal","scale":{"domain":["t = 0.02","t = 0.04","t = 0.06","t = 0.8"],"range":["square","triangle-up","circle","stroke"]},"legend":null},
"size":{"field":"s","type":"nominal","scale":{"type":"ordinal","domain":["t = 0.02","t = 0.04","t = 0.06","t = 0.8"],"range":[36,45,45,81]},"legend":null}}}
]
},
{
"width":574,"height":147,
"view":{"fill":"#17cf89","stroke":null},
"layer":[
{"data":{"values":[{}]},"mark":{"type":"rule","color":"#0d3b1c","strokeWidth":1.5},
"encoding":{"x":{"datum":-5e-6,"type":"quantitative","scale":{"domain":[-5.657e-6,-1.11e-7],"nice":false,"zero":false},"axis":{"orient":"bottom","offset":-52.7,"values":[-5e-6,-4e-6,-3e-6,-2e-6,-1e-6],"labelExpr":"format(datum.value*1000000, '.1f') + 'E-06'","grid":false,"domain":false,"tickColor":"#0d3b1c","tickSize":5,"tickWidth":1.5,"labelFont":"DejaVu Sans","labelFontWeight":"bold","labelFontSize":14,"labelColor":"#0d3b1c","labelPadding":9,"labelOverlap":false,"title":"Bx","titleFont":"DejaVu Sans","titleFontWeight":"bold","titleFontSize":22,"titleColor":"#0d3b1c","titleX":329,"titleY":42,"titleAlign":"center","titleBaseline":"middle"}},
"y":{"datum":0,"type":"quantitative","scale":{"domain":[-0.3008,0.5382],"nice":false,"zero":false},"axis":{"orient":"left","offset":-67.7,"values":[0,0.5],"format":"~g","grid":false,"domain":false,"tickColor":"#0d3b1c","tickSize":5,"tickWidth":1.5,"labelFont":"DejaVu Sans","labelFontWeight":"bold","labelFontSize":14,"labelColor":"#0d3b1c","labelPadding":6,"title":null}},
"y2":{"datum":0.5382}}},
{"data":{"values":[{}]},"mark":{"type":"rule","color":"#0d3b1c","strokeWidth":1.5,"clip":true},
"encoding":{"x":{"datum":-5e-6,"type":"quantitative"},"x2":{"datum":0},"y":{"datum":0,"type":"quantitative"}}},
{"data":{"values":[{"label":"0.0E+00","Bx":0,"y":-0.107}]},"mark":{"type":"text","font":"DejaVu Sans","fontWeight":"bold","fontSize":14,"color":"#0d3b1c","align":"center","baseline":"middle","clip":true},
"encoding":{"x":{"field":"Bx","type":"quantitative"},"y":{"field":"y","type":"quantitative"},"text":{"field":"label"}}},
{"data":{"name":"bband"},"mark":{"type":"line","color":"#061f0c","strokeWidth":2.5,"clip":true},
"encoding":{"x":{"field":"Bx","type":"quantitative"},"y":{"field":"y","type":"quantitative"},"detail":{"field":"s","type":"nominal"},"order":{"field":"y","type":"quantitative"}}},
{"data":{"name":"bband"},"mark":{"type":"point","filled":true,"opacity":1,"strokeWidth":1.5,"clip":true},
"encoding":{"x":{"field":"Bx","type":"quantitative"},"y":{"field":"y","type":"quantitative"},
"color":{"field":"s","type":"nominal","scale":{"domain":["t = 0.02","t = 0.04","t = 0.06","t = 0.08"],"range":["#050505","#2323d6","#2f9d3f","#5fae4a"]},"legend":null},
"stroke":{"field":"s","type":"nominal","scale":{"domain":["t = 0.02","t = 0.04","t = 0.06","t = 0.08"],"range":["#000000","#1a1ab4","#1b6b28","#1b6b28"]},"legend":null},
"shape":{"field":"s","type":"nominal","scale":{"domain":["t = 0.02","t = 0.04","t = 0.06","t = 0.08"],"range":["square","triangle-up","circle","stroke"]},"legend":null},
"size":{"field":"s","type":"nominal","scale":{"type":"ordinal","domain":["t = 0.02","t = 0.04","t = 0.06","t = 0.08"],"range":[36,45,45,81]},"legend":null}}}
]
}
]
}
